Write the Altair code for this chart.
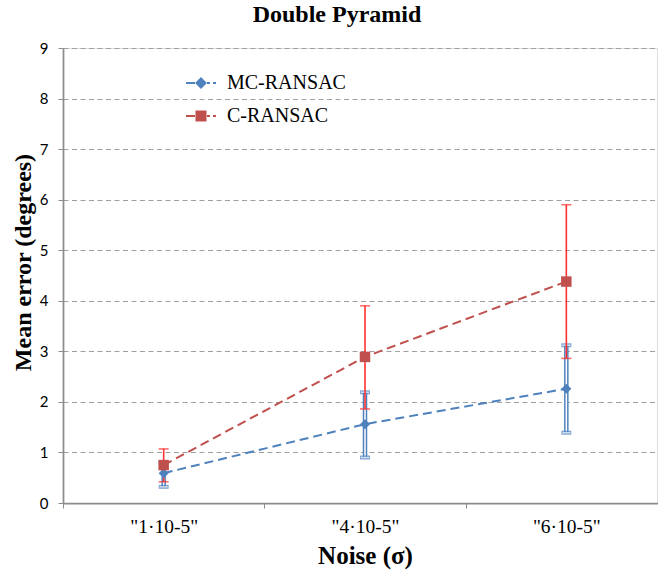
import altair as alt
import pandas as pd

categories = ['"1·10-5"', '"4·10-5"', '"6·10-5"']
series_names = ["MC-RANSAC", "C-RANSAC"]
mc_mean = [0.59, 1.56, 2.26]
mc_low = [0.32, 0.90, 1.39]
mc_high = [0.80, 2.19, 3.12]
c_mean = [0.75, 2.89, 4.38]
c_low = [0.42, 1.86, 2.86]
c_high = [1.07, 3.90, 5.90]

BLUE = "#4F81BD"
RED = "#C0504D"
ERR_RED = "#FF3030"

rows = []
for i, cat in enumerate(categories):
    rows.append({"noise": cat, "series": series_names[0], "mean": mc_mean[i], "low": mc_low[i], "high": mc_high[i]})
    rows.append({"noise": cat, "series": series_names[1], "mean": c_mean[i], "low": c_low[i], "high": c_high[i]})
df = pd.DataFrame(rows)

xscale = alt.Scale(type="band", domain=categories, range=[0, 604], paddingInner=0, paddingOuter=0)
x_enc = alt.X("noise:N", scale=xscale, sort=categories,
              axis=alt.Axis(title="Noise (σ)", labelAngle=0, tickBand="extent", grid=False,
                            labelFont="Liberation Serif", labelFontSize=19.5, labelColor="#000",
                            labelPadding=9, tickSize=5, tickColor="#8c8c8c",
                            domainColor="#8c8c8c", domainWidth=1.75,
                            titleFont="Liberation Serif", titleFontSize=25, titleFontWeight="bold",
                            titleColor="#000", titlePadding=8))
y_axis = alt.Axis(title="Mean error (degrees)", values=list(range(0, 10)), grid=True,
                  labelOverlap=False,
                  gridDash=[5, 3.5], gridColor="#a0a0a0", gridWidth=1,
                  labelFont="Lato", labelFontSize=15, labelColor="#000", labelPadding=10,
                  tickSize=5, tickColor="#8c8c8c", domainColor="#8c8c8c", domainWidth=1.75,
                  titleFont="Liberation Serif", titleFontSize=24, titleFontWeight="bold",
                  titleColor="#000", titlePadding=4, titleY=214)
yscale = alt.Scale(domain=[0, 9], nice=False)

base = alt.Chart(df)
mc = base.transform_filter(alt.datum.series == "MC-RANSAC")
cr = base.transform_filter(alt.datum.series == "C-RANSAC")

mc_bar_outer = mc.mark_rule(color=BLUE, strokeWidth=4.5).encode(
    x=x_enc, y=alt.Y("low:Q", scale=yscale, axis=y_axis), y2="high:Q")
mc_bar_inner = mc.mark_rule(color="#ffffff", strokeWidth=1.5).encode(
    x=x_enc, y=alt.Y("low:Q", scale=yscale), y2="high:Q")
mc_cap_lo_o = mc.mark_tick(color=BLUE, thickness=4, size=10).encode(x=x_enc, y=alt.Y("low:Q", scale=yscale))
mc_cap_hi_o = mc.mark_tick(color=BLUE, thickness=4, size=10).encode(x=x_enc, y=alt.Y("high:Q", scale=yscale))
mc_cap_lo_i = mc.mark_tick(color="#ffffff", thickness=1.3, size=8).encode(x=x_enc, y=alt.Y("low:Q", scale=yscale))
mc_cap_hi_i = mc.mark_tick(color="#ffffff", thickness=1.3, size=8).encode(x=x_enc, y=alt.Y("high:Q", scale=yscale))

cr_bar = cr.mark_rule(color=ERR_RED, strokeWidth=1.6).encode(
    x=x_enc, y=alt.Y("low:Q", scale=yscale), y2="high:Q")
cr_cap_lo = cr.mark_tick(color=ERR_RED, thickness=1.6, size=10).encode(x=x_enc, y=alt.Y("low:Q", scale=yscale))
cr_cap_hi = cr.mark_tick(color=ERR_RED, thickness=1.6, size=10).encode(x=x_enc, y=alt.Y("high:Q", scale=yscale))

color_scale = alt.Scale(domain=series_names, range=[BLUE, RED])

mc_line = mc.mark_line(strokeWidth=2, strokeDash=[9, 5], color=BLUE).encode(
    x=x_enc, y=alt.Y("mean:Q", scale=yscale))
cr_line = cr.mark_line(strokeWidth=2, strokeDash=[9, 5], color=RED).encode(
    x=x_enc, y=alt.Y("mean:Q", scale=yscale))

mc_pts = mc.mark_point(filled=True, opacity=1, size=100, shape="diamond", color=BLUE).encode(
    x=x_enc, y=alt.Y("mean:Q", scale=yscale))
cr_pts = cr.mark_point(filled=True, opacity=1, size=110, shape="square", color=RED).encode(
    x=x_enc, y=alt.Y("mean:Q", scale=yscale))

path_mc = "M-1,0H-0.4M0.4,0H0.6M0.8,0H1M0,-0.3L0.3,0L0,0.3L-0.3,0Z"
path_c = "M-1,0H-0.4M0.4,0H0.6M0.8,0H1M-0.3,-0.3H0.3V0.3H-0.3Z"

legend = alt.Legend(
    title=None, orient="none", legendX=122, legendY=19, padding=0,
    labelFont="Liberation Serif", labelFontSize=20, labelColor="#000", labelLimit=300,
    labelOffset=10, symbolSize=900, symbolStrokeWidth=2, rowPadding=7, symbolOpacity=1)

legend_layer = base.mark_point(filled=False, opacity=1, size=1, strokeWidth=0.5).encode(
    x=x_enc, y=alt.Y("mean:Q", scale=yscale),
    color=alt.Color("series:N", scale=color_scale, legend=legend, sort=series_names),
    fill=alt.Fill("series:N", scale=color_scale, legend=legend, sort=series_names),
    shape=alt.Shape("series:N", scale=alt.Scale(domain=series_names, range=[path_mc, path_c]),
                    legend=legend, sort=series_names))

chart = alt.layer(
    mc_bar_outer, mc_bar_inner, mc_cap_lo_o, mc_cap_hi_o, mc_cap_lo_i, mc_cap_hi_i,
    cr_bar, cr_cap_lo, cr_cap_hi, mc_line, cr_line, legend_layer, mc_pts, cr_pts
).properties(
    width=594, height=455,
    title=alt.TitleParams("Double Pyramid", font="Liberation Serif", fontSize=24, fontWeight="bold",
                          color="#000", anchor="middle", dx=-23, baseline="alphabetic", offset=-5),
    autosize=alt.AutoSizeParams(type="none"),
    padding={"left": 63, "top": 48, "right": 1, "bottom": 72},
).configure_view(stroke=None).configure(background="white")

chart.save("out.html", embed_options={"renderer": "svg", "actions": False})
